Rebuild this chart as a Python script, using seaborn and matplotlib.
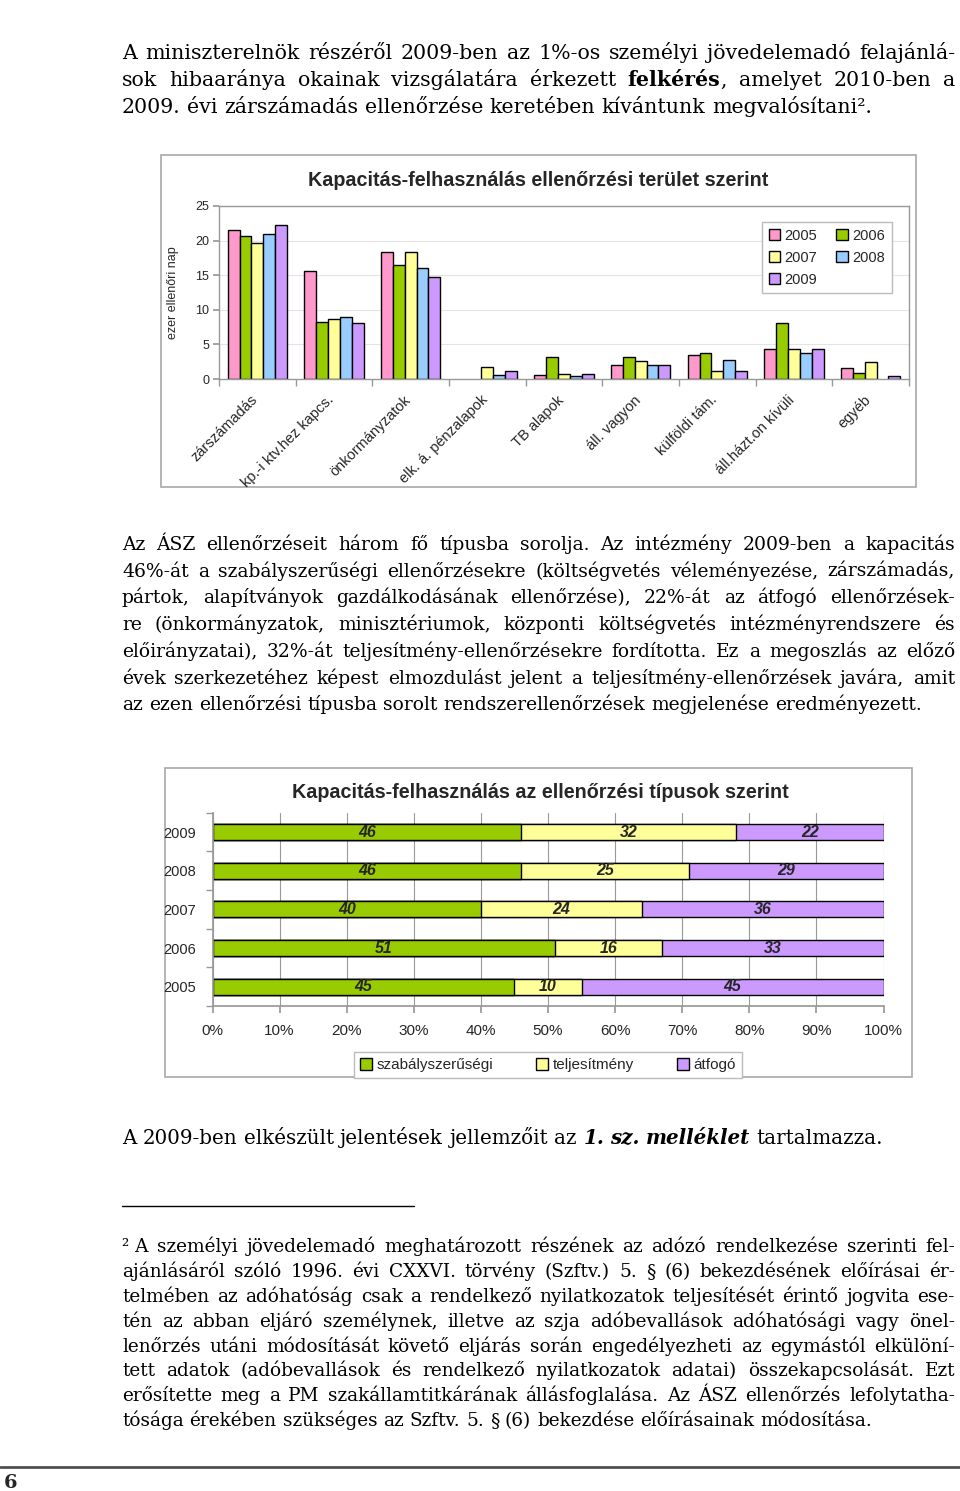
import numpy as np
import pandas as pd
import seaborn as sns
import matplotlib.pyplot as plt
from matplotlib.patches import Rectangle
from matplotlib.transforms import ScaledTranslation

# --- 1. diagram: kapacitás-felhasználás ellenőrzési terület szerint (ezer ellenőri nap) ---
teruletek = ['zárszámadás', 'kp.-i ktv.hez kapcs.', 'önkormányzatok', 'elk. á. pénzalapok',
             'TB alapok', 'áll. vagyon', 'külföldi tám.', 'áll.házt.on kívüli', 'egyéb']
evek1 = ['2005', '2006', '2007', '2008', '2009']
v2005 = [21.6, 15.6, 18.3, np.nan, 0.6, 2.0, 3.4, 4.3, 1.6]
v2006 = [20.6, 8.2, 16.5, np.nan, 3.2, 3.2, 3.7, 8.1, 0.9]
v2007 = [19.7, 8.6, 18.3, 1.8, 0.7, 2.6, 1.1, 4.3, 2.5]
v2008 = [20.9, 8.9, 16.0, 0.6, 0.5, 2.0, 2.8, 3.8, np.nan]
v2009 = [22.2, 8.1, 14.8, 1.2, 0.7, 2.0, 1.1, 4.3, 0.5]
szinek1 = ['#FF99CC', '#99CC00', '#FFFF99', '#99CCFF', '#CC99FF']

# --- 2. diagram: kapacitás-felhasználás ellenőrzési típusok szerint (%) ---
evek2 = ['2009', '2008', '2007', '2006', '2005']
szabalyszerusegi = [46, 46, 40, 51, 45]
teljesitmeny = [32, 25, 24, 16, 10]
atfogo = [22, 29, 36, 33, 45]

# --- szöveg ---
bekezdes1 = [
    "A miniszterelnök részéről 2009-ben az 1%-os személyi jövedelemadó felajánlá-",
    "sok hibaaránya okainak vizsgálatára érkezett *felkérés*, amelyet 2010-ben a",
    "2009. évi zárszámadás ellenőrzése keretében kívántunk megvalósítani².",
]
bekezdes2 = [
    "Az ÁSZ ellenőrzéseit három fő típusba sorolja. Az intézmény 2009-ben a kapacitás",
    "46%-át a szabályszerűségi ellenőrzésekre (költségvetés véleményezése, zárszámadás,",
    "pártok, alapítványok gazdálkodásának ellenőrzése), 22%-át az átfogó ellenőrzések-",
    "re (önkormányzatok, minisztériumok, központi költségvetés intézményrendszere és",
    "előirányzatai), 32%-át teljesítmény-ellenőrzésekre fordította. Ez a megoszlás az előző",
    "évek szerkezetéhez képest elmozdulást jelent a teljesítmény-ellenőrzések javára, amit",
    "az ezen ellenőrzési típusba sorolt rendszerellenőrzések megjelenése eredményezett.",
]
bekezdes3 = ["A 2009-ben elkészült jelentések jellemzőit az *1. sz. melléklet* tartalmazza."]
labjegyzet = [
    "²\u00a0A személyi jövedelemadó meghatározott részének az adózó rendelkezése szerinti fel-",
    "ajánlásáról szóló 1996. évi CXXVI. törvény (Szftv.) 5. § (6) bekezdésének előírásai ér-",
    "telmében az adóhatóság csak a rendelkező nyilatkozatok teljesítését érintő jogvita ese-",
    "tén az abban eljáró személynek, illetve az szja adóbevallások adóhatósági vagy önel-",
    "lenőrzés utáni módosítását követő eljárás során engedélyezheti az egymástól elkülöní-",
    "tett adatok (adóbevallások és rendelkező nyilatkozatok adatai) összekapcsolását. Ezt",
    "erősítette meg a PM szakállamtitkárának állásfoglalása. Az ÁSZ ellenőrzés lefolytatha-",
    "tósága érekében szükséges az Szftv. 5. § (6) bekezdése előírásainak módosítása.",
]

sns.set_theme(style="white")
plt.rcParams['font.family'] = ['Liberation Sans', 'DejaVu Sans']
SERIF = 'DejaVu Serif'

W, H = 960, 1491
fig = plt.figure(figsize=(W / 100, H / 100), dpi=100, facecolor='white')

# oldal-tengely pixel koordinátákkal
page = fig.add_axes([0, 0, 1, 1])
page.set_xlim(0, W)
page.set_ylim(H, 0)
page.axis('off')
renderer = fig.canvas.get_renderer()


def meret(txt, **kw):
    t = page.text(0, 0, txt, **kw)
    w = t.get_window_extent(renderer=renderer).width
    t.remove()
    return w


def illeszt(lines, x0, x1, s0=12, kitoltes=0.98):
    # betűméret, amelynél a leghosszabb sorkizárt sor kb. kitölti a szedéstükröt
    leghosszabb = max(meret(s.replace('*', ''), fontsize=s0, family=SERIF) for s in lines[:-1])
    return s0 * kitoltes * (x1 - x0) / leghosszabb


def sorok(lines, x0, x1, y0, dy, size, emph, family=SERIF, utolso_balra=True):
    base = dict(fontsize=size, family=family, color='black')
    szokoz = meret('a a', **base) - meret('aa', **base)
    for i, line in enumerate(lines):
        kiemel = False
        szavak = []
        for w in line.split(' '):
            darabok = []
            for j, p in enumerate(w.split('*')):
                if j > 0:
                    kiemel = not kiemel
                if p:
                    darabok.append((p, kiemel))
            szavak.append(darabok)
        szelek = [sum(meret(p, **dict(base, **(emph if b else {}))) for p, b in d) for d in szavak]
        sorkizart = not (i == len(lines) - 1 and utolso_balra)
        gap = (x1 - x0 - sum(szelek)) / (len(szavak) - 1) if sorkizart else szokoz
        x = x0
        for d, sz in zip(szavak, szelek):
            for p, b in d:
                kw = dict(base, **(emph if b else {}))
                page.text(x, y0 + i * dy, p, ha='left', va='baseline', **kw)
                x += meret(p, **kw)
            x += gap


m1 = illeszt(bekezdes1, 122, 955)
m2 = illeszt(bekezdes2, 122, 955)
m4 = illeszt(labjegyzet, 122, 955)
sorok(bekezdes1, 122, 955, 59, 27.2, m1, dict(fontweight='bold'))
sorok(bekezdes2, 122, 955, 550, 26.7, m2, {})
sorok(bekezdes3, 122, 955, 1144, 0, m2 * 1.06, dict(fontweight='bold', fontstyle='italic'))
sorok(labjegyzet, 122, 955, 1252, 24.9, m4, {})

page.plot([122, 414], [1206, 1206], color='black', lw=1)
page.plot([0, W], [1467, 1467], color='#505050', lw=2)
page.text(4, 1488, '6', family=SERIF, fontweight='bold', fontsize=14, va='baseline')

# diagram keretek
page.add_patch(Rectangle((160.5, 155), 755, 332, fill=False, edgecolor='#A8A8A8', lw=1.2))
page.add_patch(Rectangle((165, 768), 747, 309, fill=False, edgecolor='#A8A8A8', lw=1.2))
page.text(538, 181, 'Kapacitás-felhasználás ellenőrzési terület szerint', ha='center', va='center',
          fontsize=14.2, fontweight='bold')
page.text(540, 793, 'Kapacitás-felhasználás az ellenőrzési típusok szerint', ha='center', va='center',
          fontsize=14.2, fontweight='bold')


def px_axes(x0, y0, x1, y1):
    return fig.add_axes([x0 / W, 1 - y1 / H, (x1 - x0) / W, (y1 - y0) / H])


# ---------- 1. diagram ----------
ax1 = px_axes(219, 206, 909, 379)
df1 = pd.concat([pd.DataFrame({'terulet': teruletek, 'ev': ev, 'ertek': v})
                 for ev, v in zip(evek1, [v2005, v2006, v2007, v2008, v2009])], ignore_index=True)
sns.barplot(data=df1, x='terulet', y='ertek', hue='ev', hue_order=evek1, order=teruletek,
            palette=szinek1, width=0.77, edgecolor='black', linewidth=1, errorbar=None,
            saturation=1, ax=ax1)
ax1.set_xlim(-0.5, len(teruletek) - 0.5)
ax1.set_ylim(0, 25)
ax1.set_yticks(range(0, 26, 5))
ax1.yaxis.grid(True, color='#E4E4E4', lw=0.8)
ax1.set_axisbelow(True)
for s in ax1.spines.values():
    s.set_color('#999999')
    s.set_linewidth(1)
ax1.set_xlabel('')
ax1.set_ylabel('ezer ellenőri nap', fontsize=9)
ax1.yaxis.set_label_coords(-0.058, 0.5)
ax1.tick_params(axis='y', labelsize=9, length=4, color='#999999', left=True, pad=3)
ax1.set_xticks(range(len(teruletek)))
ax1.set_xticklabels(teruletek, rotation=45, ha='right', rotation_mode='anchor', fontsize=10.5)
ax1.set_xticks(np.arange(-0.5, len(teruletek)), minor=True)
ax1.tick_params(axis='x', which='major', length=0, pad=10)
ax1.tick_params(axis='x', which='minor', length=5, color='#999999', bottom=True)
for lab in ax1.get_xticklabels():
    lab.set_transform(lab.get_transform() + ScaledTranslation(-7 / 100, 0, fig.dpi_scale_trans))

h, l = ax1.get_legend_handles_labels()
rend = [0, 2, 4, 1, 3]
ax1.legend([h[i] for i in rend], [l[i] for i in rend], ncol=2, loc='upper right',
           bbox_to_anchor=(0.975, 0.907), borderaxespad=0, fontsize=10.5, frameon=True,
           fancybox=False, edgecolor='#BBBBBB', framealpha=1, handlelength=0.8, handleheight=0.8,
           handletextpad=0.3, columnspacing=1.3, labelspacing=0.55, borderpad=0.45)

# ---------- 2. diagram ----------
ax2 = px_axes(212.5, 812.7, 883.6, 1006)
df2 = pd.DataFrame({'ev': evek2, 'szab': szabalyszerusegi, 'telj': teljesitmeny, 'atf': atfogo})
df2['k2'] = df2['szab'] + df2['telj']
df2['k3'] = df2['k2'] + df2['atf']
for col, szin, nev in [('k3', '#CC99FF', 'átfogó'), ('k2', '#FFFF99', 'teljesítmény'),
                       ('szab', '#99CC00', 'szabályszerűségi')]:
    sns.barplot(data=df2, x=col, y='ev', order=evek2, orient='h', color=szin, saturation=1,
                width=0.42, edgecolor='black', linewidth=1, errorbar=None, label=nev, ax=ax2)
for i, r in df2.iterrows():
    for kozep, ertek in [(r['szab'] / 2, r['szab']), (r['szab'] + r['telj'] / 2, r['telj']),
                         (r['k2'] + r['atf'] / 2, r['atf'])]:
        ax2.text(kozep, i, f'{ertek}', ha='center', va='center', fontsize=11.5,
                 fontweight='bold', fontstyle='italic')
ax2.set_xlim(0, 100)
ax2.set_ylim(len(evek2) - 0.5, -0.5)
ax2.set_xticks(range(0, 101, 10))
ax2.set_xticklabels([f'{v}%' for v in range(0, 101, 10)])
ax2.xaxis.grid(True, color='#999999', lw=0.8)
ax2.set_axisbelow(True)
ax2.spines['top'].set_visible(False)
ax2.spines['right'].set_visible(False)
ax2.spines['left'].set_color('#999999')
ax2.spines['bottom'].set_color('#999999')
ax2.set_xlabel('')
ax2.set_ylabel('')
ax2.tick_params(axis='x', labelsize=11, length=5, color='#999999', bottom=True, pad=8)
ax2.set_yticks(np.arange(-0.5, len(evek2)), minor=True)
ax2.tick_params(axis='y', which='major', labelsize=10.5, length=0, pad=12)
ax2.tick_params(axis='y', which='minor', length=5, color='#999999', left=True)

h, l = ax2.get_legend_handles_labels()
ax2.legend(h[::-1], l[::-1], ncol=3, loc='upper center', bbox_to_anchor=(0.5, -0.197),
           fontsize=11, frameon=True, fancybox=False, edgecolor='#BBBBBB', framealpha=1,
           handlelength=0.8, handleheight=0.8, handletextpad=0.3, columnspacing=2.8,
           borderpad=0.4)

fig.savefig('out.png', dpi=100, facecolor='white')
